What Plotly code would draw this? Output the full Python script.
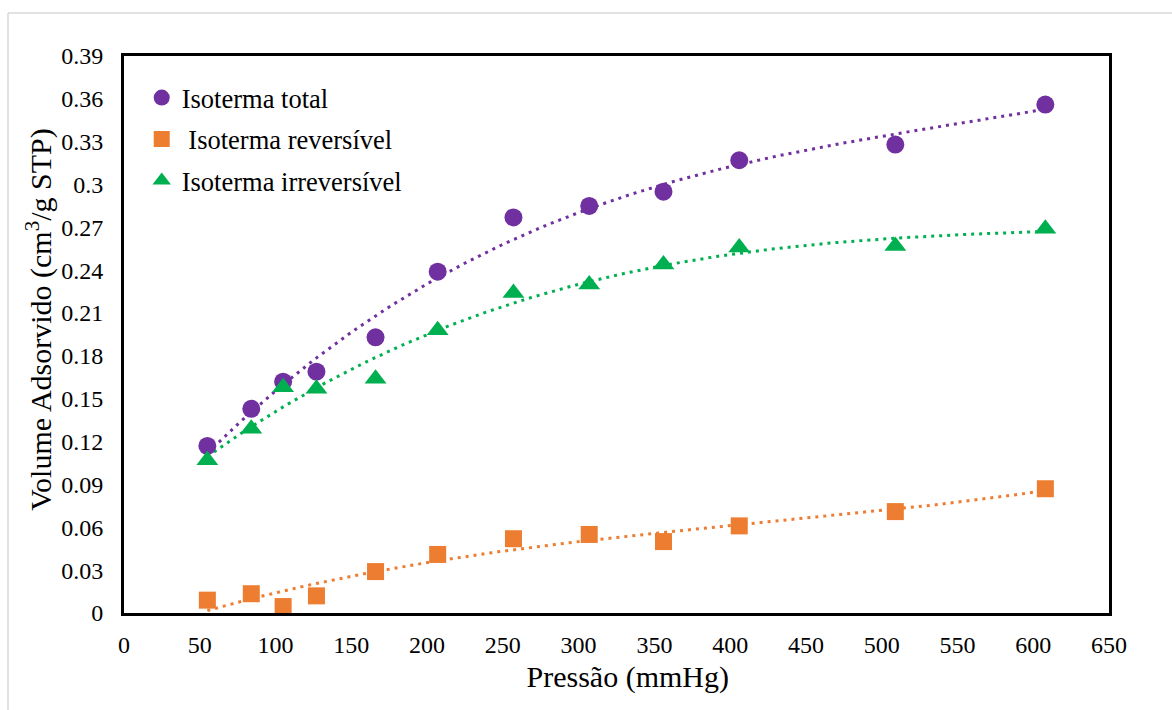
import numpy as np
import plotly.graph_objects as go

pressure = [55, 84, 105, 127, 166, 207, 257, 307, 356, 406, 509, 608]
total = [0.117, 0.143, 0.162, 0.169, 0.193, 0.239, 0.277, 0.285, 0.295, 0.317, 0.328, 0.356]
reversible = [0.009, 0.0135, 0.0045, 0.012, 0.029, 0.041, 0.052, 0.055, 0.050, 0.061, 0.071, 0.087]
irreversible = [0.107, 0.129, 0.158, 0.157, 0.164, 0.198, 0.224, 0.230, 0.244, 0.256, 0.257, 0.269]

x_ticks = list(range(0, 651, 50))
y_ticks = [round(0.03 * i, 2) for i in range(14)]
y_labels = ["0", "0.03", "0.06", "0.09", "0.12", "0.15", "0.18", "0.21", "0.24", "0.27", "0.3", "0.33", "0.36", "0.39"]

series = [
    ("Isoterma total", total, "#7030A0", "circle", 18),
    ("&nbsp;Isoterma reversível", reversible, "#ED7D31", "square", 17),
    ("Isoterma irreversível", irreversible, "#00B050", "triangle-up", 19),
]

FONT = "Liberation Serif"
fig = go.Figure()

xs = np.linspace(min(pressure), max(pressure), 200)
for name, vals, color, sym, size in series:
    coef = np.polyfit(pressure, vals, 3)
    fig.add_trace(go.Scatter(
        x=xs, y=np.polyval(coef, xs), mode="lines",
        line=dict(color=color, width=3, dash="3px,5px"),
        showlegend=False, hoverinfo="skip"))

for i, (name, vals, color, sym, size) in enumerate(series):
    fig.add_trace(go.Scatter(
        x=pressure, y=vals, mode="markers", name=name, legendgroup=f"g{i}",
        marker=dict(color=color, symbol=sym, size=size, line=dict(width=0))))

fig.update_layout(
    width=1172, height=710,
    margin=dict(l=124, r=63, t=56, b=97, autoexpand=False),
    paper_bgcolor="white", plot_bgcolor="white",
    font=dict(family=FONT, size=24, color="black"),
    legend=dict(x=0.018, y=0.968, xanchor="left", yanchor="top",
                bgcolor="rgba(0,0,0,0)", font=dict(size=26.5), itemwidth=30,
                traceorder="grouped", tracegroupgap=4),
    xaxis=dict(range=[0, 650], tickvals=x_ticks, showgrid=False, zeroline=False,
               showline=True, linecolor="black", linewidth=3, mirror=True,
               ticks="outside", ticklen=8, tickcolor="rgba(0,0,0,0)",
               automargin=False,
               title=dict(text="&nbsp;&nbsp;&nbsp;Pressão (mmHg)", font=dict(size=30), standoff=10)),
    yaxis=dict(range=[0, 0.39], tickvals=y_ticks, ticktext=y_labels, showgrid=False,
               zeroline=False, showline=True, linecolor="black", linewidth=3,
               mirror=True, ticks="outside", ticklen=13, tickcolor="rgba(0,0,0,0)",
               automargin=False,
               title=dict(text="&nbsp;&nbsp;&nbsp;&nbsp;Volume Adsorvido (cm<sup>3</sup>/g STP)",
                          font=dict(size=30), standoff=1)),
    shapes=[
        dict(type="line", xref="paper", yref="paper",
             x0=(8 - 124) / 985, x1=(1172 - 124) / 985,
             y0=(613 - 13) / 557, y1=(613 - 13) / 557,
             line=dict(color="#D9D9D9", width=1.5)),
        dict(type="line", xref="paper", yref="paper",
             x0=(8 - 124) / 985, x1=(8 - 124) / 985,
             y0=(613 - 13) / 557, y1=(613 - 710) / 557,
             line=dict(color="#D9D9D9", width=1.5)),
    ],
)

fig.write_html("out.html", config={"displayModeBar": False},
               post_script="document.body.style.margin='0';")
